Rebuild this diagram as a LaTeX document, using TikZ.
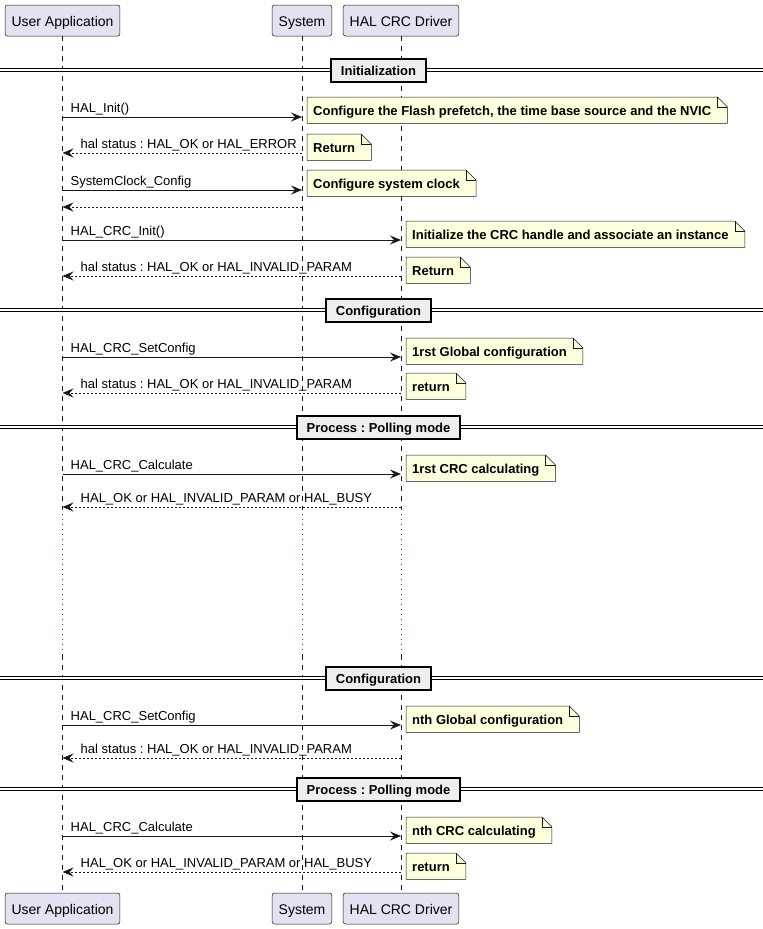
\documentclass[tikz,border=0pt]{standalone}
\usepackage{fontspec}
\setmainfont{Liberation Sans}
\usetikzlibrary{arrows.meta}
\definecolor{partfill}{HTML}{E2E2F0}
\definecolor{linegray}{HTML}{181818}
\definecolor{notefill}{HTML}{FEFFDD}
\definecolor{sepfill}{HTML}{EEEEEE}
\definecolor{dotred}{HTML}{A80036}
\tikzset{
  party/.style={draw=linegray, fill=partfill, rounded corners=2.5pt, line width=0.5pt, minimum height=31pt, inner xsep=6.5pt, text height=12pt, text depth=1pt, font=\fontsize{14}{16}\selectfont},
  lifeline/.style={linegray, line width=0.5pt, dash pattern=on 5pt off 5pt},
  pause/.style={dotred, line width=1pt, dash pattern=on 1pt off 4pt},
  call/.style={linegray, line width=1pt, -{Stealth[length=11pt,width=9pt,inset=4pt]}},
  reply/.style={call, dash pattern=on 2pt off 2pt},
  msglabel/.style={anchor=base west, inner sep=0pt, yshift=4.5pt, font=\fontsize{13}{15}\selectfont},
  notestyle/.style={anchor=north west, fill=notefill, minimum height=26pt, inner xsep=6pt, text height=11pt, text depth=1pt, font=\bfseries\fontsize{13}{15}\selectfont},
  noteline/.style={draw=linegray, line width=0.5pt},
  sepline/.style={line width=1pt, double distance=2pt},
  sepbox/.style={draw=black, fill=sepfill, line width=2pt, minimum height=23pt, inner xsep=10pt, text height=11pt, text depth=1pt, font=\bfseries\fontsize{13}{15}\selectfont}
}
\newcommand\notebox[3]{%
  \node[notestyle] (#1) at (#2) {#3\rule{10pt}{0pt}};
  \fill[white] ([xshift=-10pt]#1.north east) -- (#1.north east) -- ([yshift=-10pt]#1.north east) -- cycle;
  \draw[noteline] (#1.south west) -- (#1.north west) -- ([xshift=-10pt]#1.north east) -- ([yshift=-10pt]#1.north east) -- (#1.south east) -- cycle;
  \draw[noteline] ([xshift=-10pt]#1.north east) |- ([yshift=-10pt]#1.north east);
}
\frenchspacing
\begin{document}
\frenchspacing
\begin{tikzpicture}[x=1pt,y=-1pt]
  \useasboundingbox (0,0) rectangle (763,929);
  \node[party] (ua) at (62.5,20.5) {User Application};
  \node[party] (sys) at (302,20.5) {System};
  \node[party] (drv) at (401,20.5) {HAL CRC Driver};
  \node[party] (uaend) at (62.5,908.5) {User Application};
  \node[party] (sysend) at (302,908.5) {System};
  \node[party] (drvend) at (401,908.5) {HAL CRC Driver};

  \coordinate (gap1) at (0,509);
  \coordinate (gap2) at (0,655);
  \draw[lifeline] (ua.south) -- (ua |- gap1);
  \draw[pause] (ua |- gap1) -- (ua |- gap2);
  \draw[lifeline] (ua |- gap2) -- (uaend.north);
  \draw[lifeline] (sys.south) -- (sys |- gap1);
  \draw[pause] (sys |- gap1) -- (sys |- gap2);
  \draw[lifeline] (sys |- gap2) -- (sysend.north);
  \draw[lifeline] (drv.south) -- (drv |- gap1);
  \draw[pause] (drv |- gap1) -- (drv |- gap2);
  \draw[lifeline] (drv |- gap2) -- (drvend.north);

  \draw[sepline] (0,70) -- (763,70);
  \node[sepbox] (sep1) at (378.5,70) {Initialization};
  \draw[sepline] (0,310) -- (763,310);
  \node[sepbox] (sep2) at (378.5,310) {Configuration};
  \draw[sepline] (0,427) -- (763,427);
  \node[sepbox] (sep3) at (378.5,427) {Process : Polling mode};
  \draw[sepline] (0,678) -- (763,678);
  \node[sepbox] (sep4) at (378.5,678) {Configuration};
  \draw[sepline] (0,789) -- (763,789);
  \node[sepbox] (sep5) at (378.5,789) {Process : Polling mode};

  \coordinate (m1) at (0,117);
  \draw[call] (ua |- m1) -- (sys |- m1);
  \node[msglabel] (l1) at ([xshift=8pt]ua |- m1) {HAL\_Init()};
  \notebox{n1}{[xshift=5pt,yshift=20pt]sys |- m1}{Configure the Flash prefetch, the time base source and the NVIC}

  \coordinate (m2) at (0,153);
  \draw[reply] (sys |- m2) -- (ua |- m2);
  \node[msglabel] (l2) at ([xshift=18pt]ua |- m2) {hal status : HAL\_OK or HAL\_ERROR};
  \notebox{n2}{[xshift=5pt,yshift=19pt]sys |- m2}{Return}

  \coordinate (m3) at (0,190);
  \draw[call] (ua |- m3) -- (sys |- m3);
  \node[msglabel] (l3) at ([xshift=8pt]ua |- m3) {SystemClock\_Config};
  \notebox{n3}{[xshift=5pt,yshift=20pt]sys |- m3}{Configure system clock}

  \coordinate (m4) at (0,207);
  \draw[reply] (sys |- m4) -- (ua |- m4);

  \coordinate (m5) at (0,240);
  \draw[call] (ua |- m5) -- (drv |- m5);
  \node[msglabel] (l5) at ([xshift=8pt]ua |- m5) {HAL\_CRC\_Init()};
  \notebox{n5}{[xshift=5pt,yshift=19pt]drv |- m5}{Initialize the CRC handle and associate an instance}

  \coordinate (m6) at (0,276);
  \draw[reply] (drv |- m6) -- (ua |- m6);
  \node[msglabel] (l6) at ([xshift=18pt]ua |- m6) {hal status : HAL\_OK or HAL\_INVALID\_PARAM};
  \notebox{n6}{[xshift=5pt,yshift=19pt]drv |- m6}{Return}

  \coordinate (m7) at (0,357);
  \draw[call] (ua |- m7) -- (drv |- m7);
  \node[msglabel] (l7) at ([xshift=8pt]ua |- m7) {HAL\_CRC\_SetConfig};
  \notebox{n7}{[xshift=5pt,yshift=19pt]drv |- m7}{1rst Global configuration}

  \coordinate (m8) at (0,393);
  \draw[reply] (drv |- m8) -- (ua |- m8);
  \node[msglabel] (l8) at ([xshift=18pt]ua |- m8) {hal status : HAL\_OK or HAL\_INVALID\_PARAM};
  \notebox{n8}{[xshift=5pt,yshift=20pt]drv |- m8}{return}

  \coordinate (m9) at (0,474);
  \draw[call] (ua |- m9) -- (drv |- m9);
  \node[msglabel] (l9) at ([xshift=8pt]ua |- m9) {HAL\_CRC\_Calculate};
  \notebox{n9}{[xshift=5pt,yshift=19pt]drv |- m9}{1rst CRC calculating}

  \coordinate (m10) at (0,507);
  \draw[reply] (drv |- m10) -- (ua |- m10);
  \node[msglabel] (l10) at ([xshift=18pt]ua |- m10) {HAL\_OK or HAL\_INVALID\_PARAM or HAL\_BUSY};

  \coordinate (m11) at (0,725);
  \draw[call] (ua |- m11) -- (drv |- m11);
  \node[msglabel] (l11) at ([xshift=8pt]ua |- m11) {HAL\_CRC\_SetConfig};
  \notebox{n11}{[xshift=5pt,yshift=19pt]drv |- m11}{nth Global configuration}

  \coordinate (m12) at (0,758);
  \draw[reply] (drv |- m12) -- (ua |- m12);
  \node[msglabel] (l12) at ([xshift=18pt]ua |- m12) {hal status : HAL\_OK or HAL\_INVALID\_PARAM};

  \coordinate (m13) at (0,836);
  \draw[call] (ua |- m13) -- (drv |- m13);
  \node[msglabel] (l13) at ([xshift=8pt]ua |- m13) {HAL\_CRC\_Calculate};
  \notebox{n13}{[xshift=5pt,yshift=19pt]drv |- m13}{nth CRC calculating}

  \coordinate (m14) at (0,872);
  \draw[reply] (drv |- m14) -- (ua |- m14);
  \node[msglabel] (l14) at ([xshift=18pt]ua |- m14) {HAL\_OK or HAL\_INVALID\_PARAM or HAL\_BUSY};
  \notebox{n14}{[xshift=5pt,yshift=19pt]drv |- m14}{return}
\end{tikzpicture}
\end{document}
